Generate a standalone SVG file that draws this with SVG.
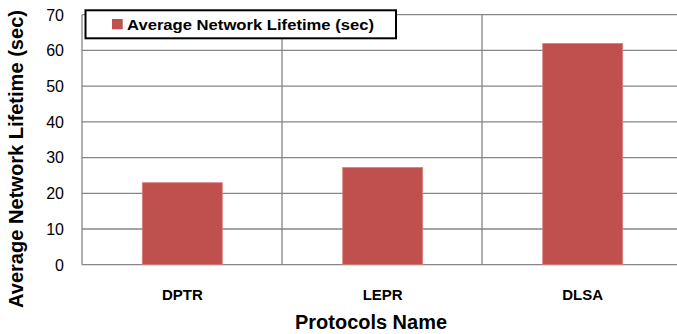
<svg xmlns="http://www.w3.org/2000/svg" width="677" height="334" viewBox="0 0 677 334">
  <style>
    .grid { stroke: #868686; stroke-width: 1.3; fill: none; }
    .bar { fill: #C0504D; stroke: #D9817F; stroke-width: 0.8; }
    .tick { font-family: "Liberation Sans", Arial, sans-serif; font-size: 16px; fill: #000; text-anchor: end; }
    .cat { font-family: "Liberation Sans", Arial, sans-serif; font-size: 15px; font-weight: bold; fill: #000; text-anchor: middle; }
    .title { font-family: "Liberation Sans", Arial, sans-serif; font-size: 20px; font-weight: bold; fill: #000; }
    .legend { font-family: "Liberation Sans", Arial, sans-serif; font-size: 14.5px; font-weight: bold; fill: #000; }
  </style>
  <rect width="677" height="334" fill="#fff"/>

  <!-- gridlines and axes -->
  <g id="grid">
    <line class="grid" x1="82" y1="14.7" x2="677" y2="14.7"/>
    <line class="grid" x1="82" y1="50.4" x2="677" y2="50.4"/>
    <line class="grid" x1="82" y1="86.1" x2="677" y2="86.1"/>
    <line class="grid" x1="82" y1="121.8" x2="677" y2="121.8"/>
    <line class="grid" x1="82" y1="157.6" x2="677" y2="157.6"/>
    <line class="grid" x1="82" y1="193.3" x2="677" y2="193.3"/>
    <line class="grid" x1="82" y1="229" x2="677" y2="229"/>
    <line class="grid" x1="282" y1="14.7" x2="282" y2="264.7"/>
    <line class="grid" x1="482" y1="14.7" x2="482" y2="264.7"/>
    <line class="grid" x1="82" y1="14.7" x2="82" y2="264.7"/>
    <line class="grid" x1="82" y1="264.7" x2="677" y2="264.7"/>
  </g>

  <!-- y tick labels -->
  <g id="yticks">
    <text class="tick" x="64" y="20.5">70</text>
    <text class="tick" x="64" y="56.2">60</text>
    <text class="tick" x="64" y="91.9">50</text>
    <text class="tick" x="64" y="127.6">40</text>
    <text class="tick" x="64" y="163.4">30</text>
    <text class="tick" x="64" y="199.1">20</text>
    <text class="tick" x="64" y="234.8">10</text>
    <text class="tick" x="64" y="270.5">0</text>
  </g>

  <!-- bars -->
  <g id="bar-dptr"><rect class="bar" x="142.3" y="182.7" width="80" height="82"/></g>
  <g id="bar-lepr"><rect class="bar" x="342.7" y="167.4" width="80" height="97.3"/></g>
  <g id="bar-dlsa"><rect class="bar" x="542.7" y="43.4" width="80" height="221.3"/></g>

  <!-- category labels -->
  <g id="xlabels">
    <text class="cat" x="182.3" y="300">DPTR</text>
    <text class="cat" x="382.7" y="300">LEPR</text>
    <text class="cat" x="582.7" y="300">DLSA</text>
  </g>

  <!-- axis titles -->
  <text class="title" x="371" y="329" text-anchor="middle" textLength="152" lengthAdjust="spacingAndGlyphs">Protocols Name</text>
  <text class="title" transform="translate(23,159) rotate(-90)" text-anchor="middle" textLength="298" lengthAdjust="spacingAndGlyphs">Average Network Lifetime (sec)</text>

  <!-- legend -->
  <g id="legend">
    <rect x="85.5" y="10.3" width="310.5" height="28" fill="#fff" stroke="#000" stroke-width="2"/>
    <rect x="112" y="19" width="10.7" height="10.3" fill="#C0504D"/>
    <text class="legend" x="127" y="29.5" textLength="247" lengthAdjust="spacingAndGlyphs">Average Network Lifetime (sec)</text>
  </g>
</svg>
